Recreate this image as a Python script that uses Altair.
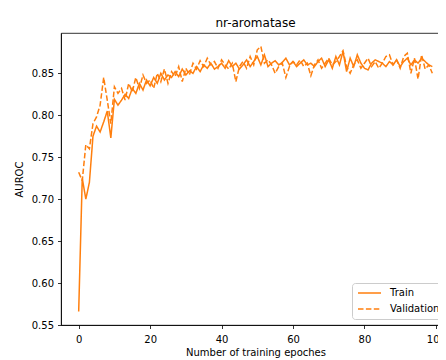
import altair as alt
import pandas as pd

epochs = list(range(100))

train = [
    0.566, 0.725, 0.700, 0.720, 0.775, 0.787, 0.780, 0.792, 0.805, 0.773,
    0.819, 0.812, 0.818, 0.825, 0.820, 0.832, 0.826, 0.838, 0.830, 0.842,
    0.835, 0.845, 0.838, 0.850, 0.842, 0.848, 0.845, 0.852, 0.846, 0.855,
    0.848, 0.853, 0.850, 0.858, 0.852, 0.860, 0.856, 0.862, 0.855, 0.858,
    0.862, 0.856, 0.865, 0.858, 0.862, 0.855, 0.860, 0.866, 0.858, 0.864,
    0.870, 0.860, 0.872, 0.858, 0.862, 0.865, 0.860, 0.863, 0.868, 0.860,
    0.864, 0.858, 0.862, 0.866, 0.860, 0.862, 0.858, 0.864, 0.868, 0.858,
    0.866, 0.856, 0.870, 0.860, 0.876, 0.852, 0.868, 0.858, 0.872, 0.862,
    0.856, 0.854, 0.862, 0.866, 0.864, 0.862, 0.858, 0.864, 0.860, 0.866,
    0.858, 0.864, 0.868, 0.860, 0.866, 0.862, 0.868, 0.864, 0.860, 0.858,
]

validation = [
    0.732, 0.722, 0.765, 0.760, 0.790, 0.798, 0.812, 0.845, 0.818, 0.790,
    0.834, 0.826, 0.832, 0.818, 0.838, 0.828, 0.845, 0.832, 0.848, 0.838,
    0.842, 0.832, 0.850, 0.840, 0.855, 0.838, 0.852, 0.846, 0.858, 0.840,
    0.856, 0.848, 0.862, 0.855, 0.865, 0.858, 0.868, 0.860, 0.864, 0.856,
    0.866, 0.860, 0.855, 0.862, 0.840, 0.858, 0.864, 0.856, 0.870, 0.860,
    0.878, 0.882, 0.862, 0.866, 0.860, 0.850, 0.858, 0.862, 0.845, 0.858,
    0.864, 0.860, 0.866, 0.858, 0.862, 0.847, 0.860, 0.866, 0.856, 0.862,
    0.868, 0.860, 0.864, 0.870, 0.877, 0.858, 0.850, 0.860, 0.866, 0.856,
    0.862, 0.868, 0.858, 0.864, 0.856, 0.862, 0.870, 0.872, 0.860, 0.866,
    0.856, 0.870, 0.874, 0.850, 0.868, 0.843, 0.872, 0.855, 0.860, 0.850,
]

series_names = ["Train", "Validation"]
x_ticks = [0, 20, 40, 60, 80, 100]
y_ticks = [0.55, 0.60, 0.65, 0.70, 0.75, 0.80, 0.85]

df = pd.concat([
    pd.DataFrame({"epoch": epochs, "auroc": train, "series": series_names[0]}),
    pd.DataFrame({"epoch": epochs, "auroc": validation, "series": series_names[1]}),
])

ORANGE = "#ff7f0e"
FONT = "DejaVu Sans"

legend = alt.Legend(title=None, orient="none", legendX=291, legendY=250)

chart = alt.Chart(df).mark_line(strokeWidth=1.5).encode(
    x=alt.X("epoch:Q",
            scale=alt.Scale(domain=[-4.95, 103.95], nice=False, zero=False),
            axis=alt.Axis(values=x_ticks, title="Number of training epoches", format="d",
                          labelPadding=6, titlePadding=3)),
    y=alt.Y("auroc:Q",
            scale=alt.Scale(domain=[0.55, 0.898], nice=False, zero=False),
            axis=alt.Axis(values=y_ticks, title="AUROC", format=".2f",
                          labelPadding=4, titlePadding=7)),
    color=alt.Color("series:N",
                    scale=alt.Scale(domain=series_names, range=[ORANGE, ORANGE]),
                    legend=legend),
    strokeDash=alt.StrokeDash("series:N",
                              scale=alt.Scale(domain=series_names, range=[[1, 0], [5.5, 2.4]]),
                              legend=legend),
).properties(
    width=389,
    height=292,
    autosize=alt.AutoSizeParams(type="none"),
    padding={"left": 53, "top": 25, "right": -12, "bottom": 33},
    title=alt.TitleParams("nr-aromatase", fontSize=12, font=FONT, fontWeight="normal",
                          color="black", offset=6, dy=12, anchor="middle", baseline="alphabetic"),
).configure_view(
    stroke="black", strokeWidth=0.8,
).configure_axis(
    grid=False,
    domainColor="black", domainWidth=0.8,
    tickColor="black", tickWidth=0.8, tickSize=3.5,
    labelFont=FONT, labelFontSize=10, labelColor="black",
    titleFont=FONT, titleFontSize=10, titleColor="black", titleFontWeight="normal",
).configure_legend(
    labelFont=FONT, labelFontSize=10, labelColor="black",
    symbolType="stroke", symbolSize=529, symbolStrokeWidth=1.5,
    fillColor="rgba(255,255,255,0.8)", strokeColor="#cccccc", cornerRadius=3,
    padding=5, rowPadding=6, clipHeight=10, labelOffset=8,
)

chart.save("out.html", embed_options={"renderer": "svg", "actions": False})
